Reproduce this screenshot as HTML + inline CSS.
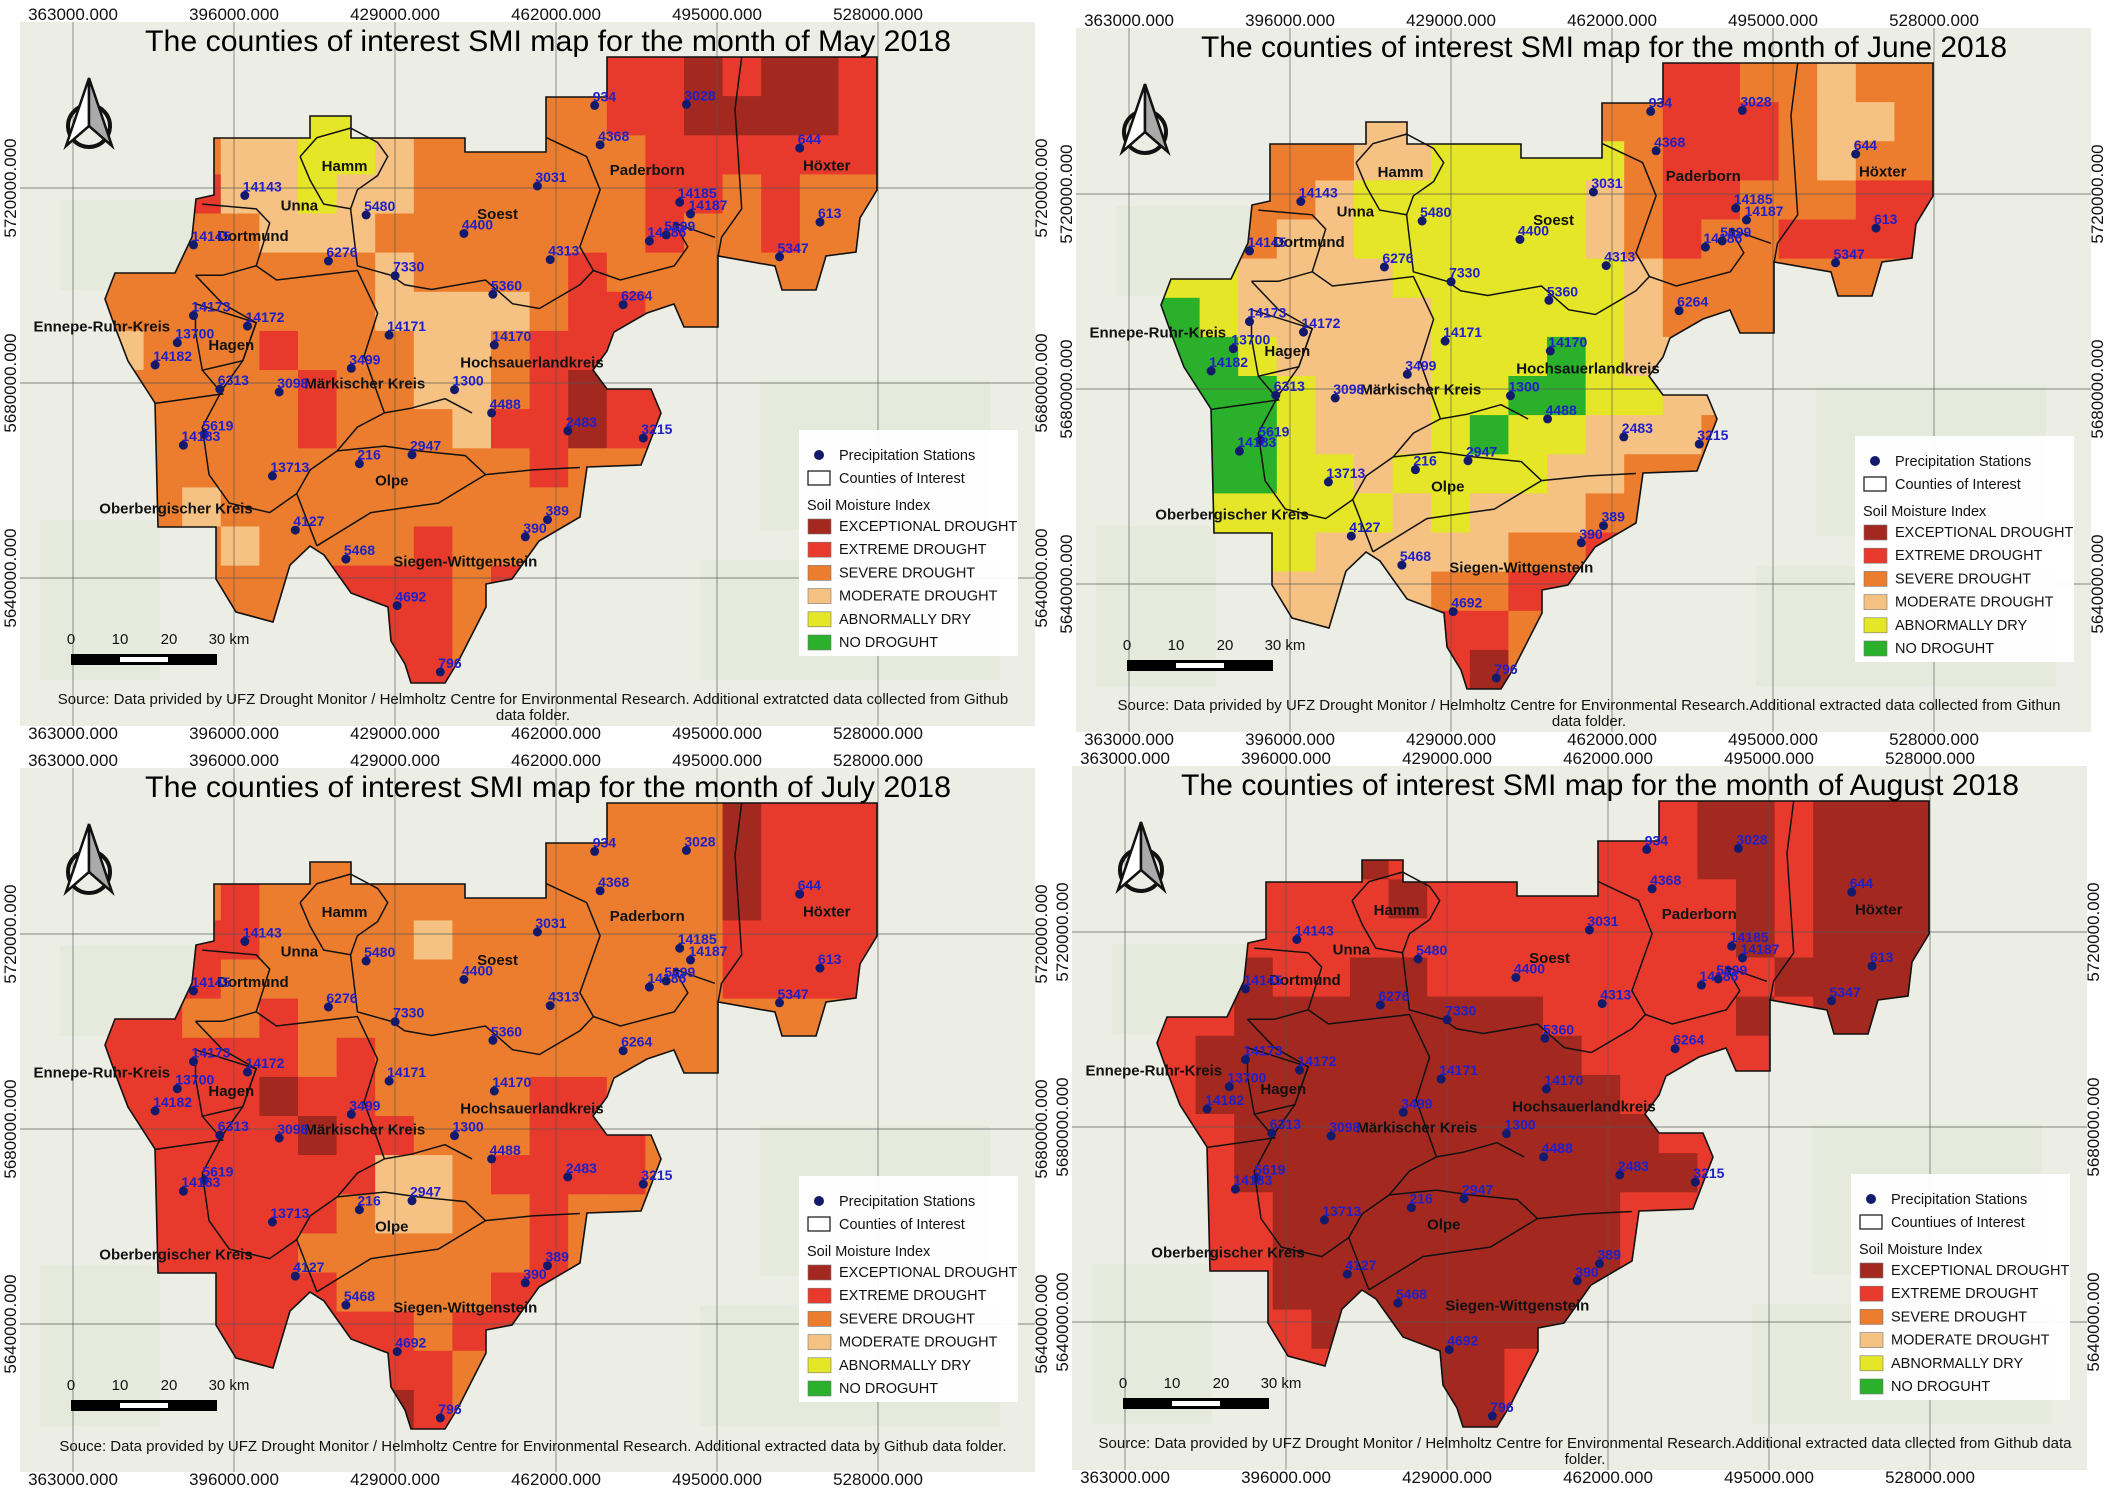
<!DOCTYPE html>
<html><head><meta charset="utf-8"><style>
html,body{margin:0;padding:0;background:#fff;}
svg{display:block;font-family:"Liberation Sans",sans-serif;}
</style></head><body>
<svg id="root" width="2104" height="1488" viewBox="0 0 2104 1488" xmlns="http://www.w3.org/2000/svg"></svg>
<script>
// ---- data ----
const classNames = ["EXCEPTIONAL DROUGHT","EXTREME DROUGHT","SEVERE DROUGHT","MODERATE DROUGHT","ABNORMALLY DRY","NO DROGUHT"];
const classCodes = ["X","E","S","M","A","N"];
const classColors = ["#a3281f","#e83a2c","#ec7d2e","#f5c283","#e4e627","#2ab02a"];
const monthNames = ["May","June","July","August"];
const xTicks = ["363000.000","396000.000","429000.000","462000.000","495000.000","528000.000"];
const yTicks = ["5720000.000","5680000.000","5640000.000"];
const stationNames = ["934","3028","4368","644","3031","14185","14187","613","14143","5480","4400","14186","5699","14145","6276","4313","5347","7330","5360","6264","14173","14172","14171","14170","13700","14182","3499","3098","6313","1300","4488","2483","3215","5619","14183","216","2947","13713","4127","390","389","5468","4692","796"];
const stationX = [882,1018,890,1186,797,1008,1024,1216,363,543,688,963,988,287,487,816,1156,586,731,924,287,367,577,733,263,230,521,414,326,674,729,842,954,303,272,533,611,404,438,779,812,513,589,653];
const stationY = [222,220,305,312,392,426,451,468,412,453,492,508,495,516,550,547,541,581,620,642,665,687,706,727,722,769,776,826,820,821,870,908,923,915,938,977,958,1003,1117,1131,1095,1178,1276,1416];
const countyNames = ["Hamm","Unna","Dortmund","Soest","Paderborn","Höxter","Ennepe-Ruhr-Kreis","Hagen","Märkischer Kreis","Hochsauerlandkreis","Olpe","Oberbergischer Kreis","Siegen-Wittgenstein"];
const countyX = [511,444,375,738,960,1226,151,343,541,789,581,261,690];
const countyY = [350,433,497,451,358,349,688,727,808,764,1012,1071,1183];
const gridMay = ["SSSSSSSSSSSSSEEXEXXE","SSSSSAASSSSSSEEXXXXE","SSSMMAAMSSSSSSEEEEEE","EEEMMAMMSSSSSSEESESS","SSSSMMMSSSSSSSESSESS","SSSSSSSMSSSSESSSSSSS","SSSSSSSMMMMSEESSSSSS","MSSSESSSMMSEEESSSSSS","SSSSSESSMMSEXEESSSSS","SSSSSESSSMEEXEESSSSS","SSSSSSSSSSSESSSSSSSS","SSMSSSSSSSSSSSSSSSSS","SSSMSSSSESSSSSSSSSSS","SSSSSEEEESESSSSSSSSS","SSSSSSEEESSSSSSSSSSS","SSSSSSSEESSSSSSSSSSS"];
const gridJune = ["SSSSSSSSSSSSSEESSMSS","SSSSSMMSSSSSSEEESMMS","SSSSSMMAAAAASEEESMSS","ASSSMAAAAAAMSEESSSEE","ASSMMAAAAAAMSESSEEEE","AAMMMMAAAAAAMSSSSSSS","NAMMMMMAAAAAMSSSSSSS","NNAMMMMAAANAMMMSSSSS","NNNAMMMAANNAAMMSSSSS","NNNAMMMANAAMMMSSSSSS","NNNAAMAAAAMMSSSSSSSS","AAAAAAMAMMMSSSSSSSSS","AAAAMMMMMSSESSSSSSSS","MMMMMMMSSEESSSSSSSSS","MMMMMMSEESSSSSSSSSSS","SSSSSSSEXSSSSSSSSSSS"];
const gridJuly = ["SSSSSSSSSSSSSSSSXEEE","SSSSSSSSSSSSSSSSXEEE","SSSESSSSSSSSSSSSXEEE","EEEESSSSMSSSSSSSEEEE","EEESSSSSSSSSSSSSEEEE","EESSESSSSSSSSSSSSSSS","EEEEESESSSSSSSSSSSSS","EEEEXEESSSSEESSSSSSS","EEEEEXEESSSEEESSSSSS","EEEEEEEMMSEEEESSSSSS","EEEEEESMMSSESSSSSSSS","EEEEESSSSSSESSSSSSSS","EEEEEESSSSEESSSSSSSS","EEEEEEEESEESSSSSSSSS","EEEEEEEEESSSSSSSSSSS","EEEEEEEXESSSSSSSSSSS"];
const gridAugust = ["EEEEEEEEEEEEEEXXEXXX","EEEEEXEEEEEEEEXXEXXX","EEEEEEXEEEEEEEEXEXXX","EEEEEEEEEEEEEEEXEXXX","EEXEEXXEEEEEEEEEXXXX","EEXXXXXXXXEEEEEXEXXX","EXXXXXXXXXXEEEEEEEEE","EXXXXXXXXXXXEEEEEEEE","EEXXXXXXXXXXXEEEEEEE","EEXXXXXXXXXXXXEEEEEE","EEEXXXXXXXXXEEEEEEEE","EEEXXXXXXXXXEEEEEEEE","EEEXXXXXXXXXEEEEEEEE","EEEEXXXXXXXEEEEEEEEE","EEEEEXXXXEEEEEEEEEEE","EEEEEEEXXEEEEEEEEEEE"];
const monthGrids = [gridMay, gridJune, gridJuly, gridAugust];

// ---- layout ----
const NS="http://www.w3.org/2000/svg";
const root=document.getElementById('root');
const SX=1/1.483, SY=1/2.107;
function el(tag,attrs,parent){const e=document.createElementNS(NS,tag);for(const k in attrs)e.setAttribute(k,attrs[k]);(parent||root).appendChild(e);return e;}
const outline=[[214,138],[310,138],[310,116],[351,116],[351,138],[465,138],[465,152],[546,152],[546,97],[607,97],[607,57],[877,57],[877,190],[860,218],[856,252],[826,256],[816,290],[782,290],[775,266],[718,256],[718,327],[684,327],[674,304],[647,313],[614,332],[607,351],[593,370],[607,389],[651,389],[661,413],[641,465],[587,467],[580,517],[539,541],[512,579],[486,584],[486,607],[459,660],[445,683],[411,683],[405,664],[391,641],[388,607],[351,593],[324,555],[310,546],[290,565],[273,622],[236,612],[216,579],[216,527],[158,527],[155,403],[128,361],[115,327],[105,299],[115,273],[175,273],[192,237],[196,199],[214,195]];
const borders=[
 [[445,330],[470,290],[520,270],[560,300],[575,330],[560,370],[530,400],[520,440],[480,430],[460,380],[445,330]],
 [[520,440],[530,560],[580,580],[600,600],[640,610],[720,590],[760,640],[800,650],[860,600],[880,570],[860,520],[890,400],[870,330],[810,290]],
 [[1100,120],[1090,230],[1100,440],[1070,500],[1065,540]],
 [[880,570],[920,590],[1000,560],[1020,520],[1000,470],[1060,500]],
 [[300,430],[380,440],[400,470],[380,560],[330,580],[290,580]],
 [[380,560],[410,590],[470,580],[530,570],[560,660],[540,750],[570,870],[530,900],[500,950],[460,990],[440,1040],[400,1080],[340,1060],[310,1000],[300,900],[330,820],[360,760],[380,680],[330,640],[290,580]],
 [[290,640],[380,680],[360,760],[300,780],[290,700],[290,640]],
 [[300,780],[330,830],[230,850]],
 [[440,1040],[470,1150]],[[470,1150],[550,1080],[600,1070],[650,1060],[720,1000],[790,990],[860,985]],
 [[500,950],[570,940],[620,950],[690,960],[720,1000]],
 [[570,870],[610,860],[660,840],[700,870]]
];
const panels=[
 {ox:0,oy:0,src:["Source: Data privided by UFZ Drought Monitor / Helmholtz Centre for Environmental Research. Additional extratcted data collected from Github","data folder."],leg:"Counties of Interest"},
 {ox:1056,oy:6,src:["Source: Data privided by UFZ Drought Monitor / Helmholtz Centre for Environmental Research.Additional extracted data collected from Githun","data folder."],leg:"Counties of Interest"},
 {ox:0,oy:746,src:["Souce: Data provided by  UFZ Drought Monitor / Helmholtz Centre for Environmental Research. Additional extracted data by Github data folder."],leg:"Counties of Interest"},
 {ox:1052,oy:744,src:["Source: Data provided by UFZ Drought Monitor / Helmholtz Centre for Environmental Research.Additional extracted data cllected from Github data","folder."],leg:"Countiues of Interest"}
];
const gx0=105,gy0=57,cw=(877-105)/20,ch=(683-57)/16;
function colorOf(code){return classColors[classCodes.indexOf(code)];}

panels.forEach((p,pi)=>{
 const g=el('g',{transform:`translate(${p.ox},${p.oy})`});
 
 
 // axis tick labels
 xTicks.forEach((t,i)=>{
  const x=73+i*161;
  const a=el('text',{x:x,y:20,'font-size':17,'text-anchor':'middle',fill:'#111'},g);a.textContent=t;
  
  const b=el('text',{x:x,y:739,'font-size':17,'text-anchor':'middle',fill:'#111'},g);b.textContent=t;
  
 });
 // frame background
 const bg=el('rect',{x:20,y:22,width:1015,height:704,fill:'#eceee6'},g);
 
 // faint basemap features
 [[60,200,240,90],[760,380,230,150],[700,560,300,120],[40,520,120,160]].forEach(r=>{
  el('rect',{x:r[0],y:r[1],width:r[2],height:r[3],fill:'#e2e8d8',opacity:0.7},g);
 });
 yTicks.forEach((t,i)=>{
  const y=188+i*195;
  const a=el('text',{x:0,y:0,'font-size':17,'text-anchor':'middle',fill:'#111',transform:`translate(16,${y}) rotate(-90)`},g);a.textContent=t;
  
  const b=el('text',{x:0,y:0,'font-size':17,'text-anchor':'middle',fill:'#111',transform:`translate(1047,${y}) rotate(-90)`},g);b.textContent=t;
  
 });
 // clip
 const cp=el('clipPath',{id:'clip'+pi},g);
 el('polygon',{points:outline.map(q=>q.join(',')).join(' ')},cp);
 const cells=el('g',{'clip-path':`url(#clip${pi})`},g);
 
 monthGrids[pi].forEach((row,r)=>{
  for(let c=0;c<row.length;c++){
   const rc=el('rect',{x:(gx0+c*cw).toFixed(1),y:(gy0+r*ch).toFixed(1),width:(cw+0.6).toFixed(1),height:(ch+0.6).toFixed(1),fill:colorOf(row[c])},cells);
   
  }
 });
 // grid lines
 for(let i=0;i<6;i++){el('line',{x1:73+i*161,y1:22,x2:73+i*161,y2:726,stroke:'#555','stroke-width':0.9,opacity:0.7},g);}
 for(let i=0;i<3;i++){el('line',{x1:20,y1:188+i*195,x2:1035,y2:188+i*195,stroke:'#555','stroke-width':0.9,opacity:0.7},g);}
 // outline + county borders
 const ol=el('polygon',{points:outline.map(q=>q.join(',')).join(' '),fill:'none',stroke:'#111','stroke-width':1.6},g);
 
 borders.forEach(b=>{
  const pl=el('polyline',{points:b.map(q=>(q[0]*SX).toFixed(1)+','+(q[1]*SY).toFixed(1)).join(' '),fill:'none',stroke:'#111','stroke-width':1.5},g);
  
 });
 // county labels
 countyNames.forEach((n,i)=>{
  const t=el('text',{x:(countyX[i]*SX).toFixed(1),y:(countyY[i]*SY+5).toFixed(1),'font-size':15,'font-weight':'bold','text-anchor':'middle',fill:'#111'},g);
  t.textContent=n;
  
 });
 // stations
 stationNames.forEach((n,i)=>{
  const x=stationX[i]*SX,y=stationY[i]*SY;
  const d=el('circle',{cx:x.toFixed(1),cy:y.toFixed(1),r:4.5,fill:'#141a6b'},g);
  
  const t=el('text',{x:(x-2).toFixed(1),y:(y-4).toFixed(1),'font-size':14,'font-weight':'bold',fill:'#2020c8'},g);
  t.textContent=n;
  
 });
 // title
 const ti=el('text',{x:548,y:51,'font-size':30,'text-anchor':'middle',fill:'#000',textLength:pi==3?838:806,lengthAdjust:'spacingAndGlyphs'},g);
 ti.textContent='The counties of interest SMI map for the month of '+monthNames[pi]+' 2018';
 
 // north arrow
 const na=el('g',{},g);
 
 el('circle',{cx:89,cy:126,r:21,fill:'none',stroke:'#111','stroke-width':4},na);
 el('polygon',{points:'89,78 66,146 89,126',fill:'#fff',stroke:'#111','stroke-width':2.5},na);
 el('polygon',{points:'89,78 112,146 89,126',fill:'#aaa',stroke:'#111','stroke-width':2.5},na);
 // scale bar
 const sb=el('g',{},g);
 
 el('rect',{x:71,y:654,width:146,height:11,fill:'#000'},sb);
 el('rect',{x:120,y:657,width:48,height:5,fill:'#fff'},sb);
 [['0',71],['10',120],['20',169],['30 km',229]].forEach(s=>{const t=el('text',{x:s[1],y:644,'font-size':15,'text-anchor':'middle',fill:'#111'},sb);t.textContent=s[0];});
 // legend
 const lg=el('g',{},g);
 
 el('rect',{x:799,y:430,width:219,height:226,fill:'#fff',opacity:0.95},lg);
 el('circle',{cx:819,cy:455,r:5,fill:'#141a6b'},lg);
 let t=el('text',{x:839,y:460,'font-size':14.5,fill:'#111'},lg);t.textContent='Precipitation Stations';
 el('rect',{x:808,y:471,width:22,height:14,fill:'#fff',stroke:'#111','stroke-width':1.2},lg);
 t=el('text',{x:839,y:483,'font-size':14.5,fill:'#111'},lg);t.textContent=p.leg;
 t=el('text',{x:807,y:510,'font-size':14.5,fill:'#111'},lg);t.textContent='Soil Moisture Index';
 classNames.forEach((n,i)=>{
  const y=526+i*23.2;
  const sw=el('rect',{x:808,y:(y-7).toFixed(1),width:23,height:15,fill:classColors[i],stroke:'#777','stroke-width':0.6},lg);
  
  const tt=el('text',{x:839,y:(y+5).toFixed(1),'font-size':14.5,fill:'#111'},lg);tt.textContent=n;
  
 });
 // source
 p.src.forEach((s,i)=>{
  const st=el('text',{x:533,y:(p.src.length==1?705:704)+i*16,'font-size':15,'text-anchor':'middle',fill:'#111'},g);
  st.textContent=s;
  
 });
});
</script>
</body></html>
